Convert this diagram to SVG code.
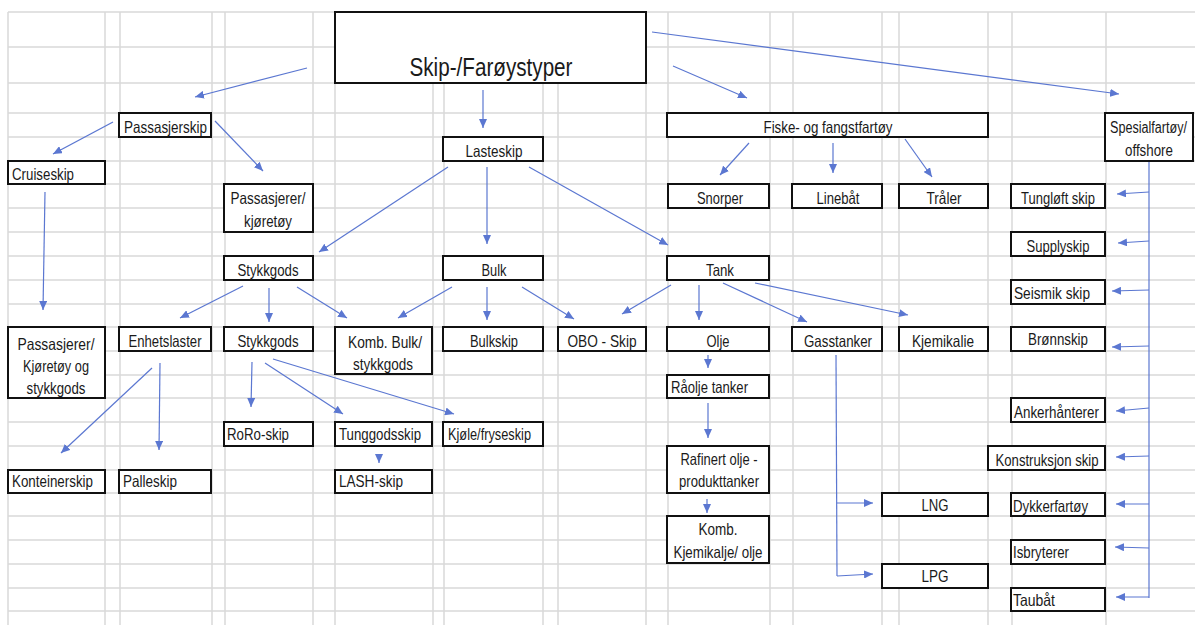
<svg xmlns="http://www.w3.org/2000/svg" width="1195" height="625" viewBox="0 0 1195 625">
<style>
.g line{stroke:#d9d9d9;stroke-width:1.5}
.n rect{fill:#fff;stroke:#111;stroke-width:2}
.n text{font-family:"Liberation Sans",Arial,sans-serif;font-size:16.5px;fill:#1a1a1a}
.m{text-anchor:middle}
#edges line{stroke:#5b77d1;stroke-width:1.2;fill:none}
#edges .a{marker-end:url(#ah)}
</style>
<defs>
<marker id="ah" markerUnits="userSpaceOnUse" markerWidth="10" markerHeight="8" refX="9" refY="4" orient="auto">
<path d="M0,0 L9,4 L0,8 z" fill="#5b77d1"/>
</marker>
</defs>
<rect width="1195" height="625" fill="#fff"/>
<g class="g" id="grid">
<line x1="8" y1="12" x2="1195" y2="12"/><line x1="8" y1="47" x2="1195" y2="47"/><line x1="8" y1="83" x2="1195" y2="83"/>
<line x1="8" y1="113" x2="1195" y2="113"/><line x1="8" y1="137" x2="1195" y2="137"/><line x1="8" y1="161" x2="1195" y2="161"/>
<line x1="8" y1="184" x2="1195" y2="184"/><line x1="8" y1="208" x2="1195" y2="208"/><line x1="8" y1="232" x2="1195" y2="232"/>
<line x1="8" y1="256" x2="1195" y2="256"/><line x1="8" y1="280" x2="1195" y2="280"/><line x1="8" y1="304" x2="1195" y2="304"/>
<line x1="8" y1="327" x2="1195" y2="327"/><line x1="8" y1="351" x2="1195" y2="351"/><line x1="8" y1="375" x2="1195" y2="375"/>
<line x1="8" y1="398" x2="1195" y2="398"/><line x1="8" y1="422" x2="1195" y2="422"/><line x1="8" y1="446" x2="1195" y2="446"/>
<line x1="8" y1="470" x2="1195" y2="470"/><line x1="8" y1="493" x2="1195" y2="493"/><line x1="8" y1="516" x2="1195" y2="516"/>
<line x1="8" y1="540" x2="1195" y2="540"/><line x1="8" y1="564" x2="1195" y2="564"/><line x1="8" y1="588" x2="1195" y2="588"/>
<line x1="8" y1="611" x2="1195" y2="611"/>
<line x1="8" y1="12" x2="8" y2="625"/><line x1="105" y1="12" x2="105" y2="625"/><line x1="120" y1="12" x2="120" y2="625"/>
<line x1="212" y1="12" x2="212" y2="625"/><line x1="225" y1="12" x2="225" y2="625"/><line x1="313" y1="12" x2="313" y2="625"/>
<line x1="335" y1="12" x2="335" y2="625"/><line x1="433" y1="12" x2="433" y2="625"/><line x1="444" y1="12" x2="444" y2="625"/>
<line x1="543" y1="12" x2="543" y2="625"/><line x1="558" y1="12" x2="558" y2="625"/><line x1="646" y1="12" x2="646" y2="625"/>
<line x1="668" y1="12" x2="668" y2="625"/><line x1="770" y1="12" x2="770" y2="625"/><line x1="793" y1="12" x2="793" y2="625"/>
<line x1="882" y1="12" x2="882" y2="625"/><line x1="899" y1="12" x2="899" y2="625"/><line x1="988" y1="12" x2="988" y2="625"/>
<line x1="1012" y1="12" x2="1012" y2="625"/><line x1="1106" y1="12" x2="1106" y2="625"/>
</g>
<g id="edges">
<line class="a" x1="307" y1="68" x2="195" y2="97"/>
<line class="a" x1="483" y1="90" x2="483" y2="128"/>
<line class="a" x1="673" y1="66" x2="747" y2="98"/>
<line class="a" x1="652" y1="32" x2="1119" y2="94"/>
<line class="a" x1="113" y1="122" x2="53" y2="154"/>
<line class="a" x1="215" y1="121" x2="263" y2="171"/>
<line class="a" x1="45" y1="192" x2="43" y2="310"/>
<line class="a" x1="448" y1="167" x2="319" y2="252"/>
<line class="a" x1="487" y1="167" x2="487" y2="244"/>
<line class="a" x1="529" y1="167" x2="668" y2="245"/>
<line class="a" x1="749" y1="143" x2="720" y2="175"/>
<line class="a" x1="833" y1="143" x2="833" y2="173"/>
<line class="a" x1="905" y1="139" x2="932" y2="177"/>
<line x1="1149" y1="152" x2="1149" y2="598"/>
<line class="a" x1="1149" y1="192" x2="1117" y2="194"/>
<line class="a" x1="1149" y1="241" x2="1118" y2="243"/>
<line class="a" x1="1149" y1="290" x2="1112" y2="291"/>
<line class="a" x1="1149" y1="346" x2="1112" y2="347"/>
<line class="a" x1="1149" y1="408" x2="1116" y2="411"/>
<line class="a" x1="1149" y1="456" x2="1116" y2="457"/>
<line class="a" x1="1149" y1="504" x2="1116" y2="504"/>
<line class="a" x1="1149" y1="548" x2="1115" y2="547"/>
<line class="a" x1="1149" y1="597" x2="1116" y2="597"/>
<line class="a" x1="243" y1="286" x2="180" y2="318"/>
<line class="a" x1="269" y1="288" x2="269" y2="322"/>
<line class="a" x1="297" y1="287" x2="347" y2="318"/>
<line class="a" x1="452" y1="287" x2="398" y2="318"/>
<line class="a" x1="487" y1="287" x2="487" y2="320"/>
<line class="a" x1="522" y1="287" x2="574" y2="319"/>
<line class="a" x1="671" y1="285" x2="622" y2="314"/>
<line class="a" x1="699" y1="285" x2="699" y2="320"/>
<line class="a" x1="723" y1="283" x2="807" y2="322"/>
<line class="a" x1="755" y1="283" x2="908" y2="315"/>
<line class="a" x1="708" y1="355" x2="708" y2="368"/>
<line class="a" x1="708" y1="403" x2="708" y2="438"/>
<line class="a" x1="707" y1="499" x2="707" y2="513"/>
<line x1="836" y1="355" x2="837" y2="576"/>
<line class="a" x1="837" y1="503" x2="873" y2="503"/>
<line class="a" x1="837" y1="576" x2="873" y2="574"/>
<line class="a" x1="152" y1="368" x2="61" y2="453"/>
<line class="a" x1="160" y1="363" x2="159" y2="450"/>
<line class="a" x1="252" y1="362" x2="251" y2="407"/>
<line class="a" x1="265" y1="363" x2="343" y2="414"/>
<line class="a" x1="273" y1="359" x2="454" y2="414"/>
<line class="a" x1="379" y1="455" x2="379" y2="463"/>
</g>
<g id="n-title" class="n"><rect x="335" y="12" width="311" height="71"/><text class="m" x="491" y="76" style="font-size:25px" textLength="163" lengthAdjust="spacingAndGlyphs">Skip-/Farøystyper</text></g>
<g id="n-passasjerskip" class="n"><rect x="119" y="113" width="92" height="24"/><text x="124" y="133" textLength="83" lengthAdjust="spacingAndGlyphs">Passasjerskip</text></g>
<g id="n-lasteskip" class="n"><rect x="443" y="137" width="100" height="24"/><text class="m" x="494" y="157" textLength="57" lengthAdjust="spacingAndGlyphs">Lasteskip</text></g>
<g id="n-fiske" class="n"><rect x="667" y="113" width="321" height="24"/><text class="m" x="828" y="133" textLength="129" lengthAdjust="spacingAndGlyphs">Fiske- og fangstfartøy</text></g>
<g id="n-spesial" class="n"><rect x="1105" y="113" width="88" height="48"/><text x="1187" y="133" style="font-size:16px;text-anchor:end" textLength="77" lengthAdjust="spacingAndGlyphs">Spesialfartøy/</text><text class="m" x="1149" y="156" textLength="48" lengthAdjust="spacingAndGlyphs">offshore</text></g>
<g id="n-cruiseskip" class="n"><rect x="8" y="161" width="97" height="23"/><text x="12" y="180" textLength="62" lengthAdjust="spacingAndGlyphs">Cruiseskip</text></g>
<g id="n-passkjoretoy" class="n"><rect x="224" y="184" width="89" height="48"/><text class="m" x="268" y="204" textLength="75" lengthAdjust="spacingAndGlyphs">Passasjerer/</text><text class="m" x="268" y="227" textLength="48" lengthAdjust="spacingAndGlyphs">kjøretøy</text></g>
<g id="n-snorper" class="n"><rect x="668" y="184" width="101" height="24"/><text class="m" x="720" y="204" textLength="46" lengthAdjust="spacingAndGlyphs">Snorper</text></g>
<g id="n-linebat" class="n"><rect x="792" y="184" width="90" height="24"/><text class="m" x="838" y="204" textLength="43" lengthAdjust="spacingAndGlyphs">Linebåt</text></g>
<g id="n-traler" class="n"><rect x="899" y="184" width="89" height="24"/><text class="m" x="944" y="204" textLength="35" lengthAdjust="spacingAndGlyphs">Tråler</text></g>
<g id="n-tungloft" class="n"><rect x="1011" y="184" width="94" height="24"/><text class="m" x="1058" y="204" textLength="74" lengthAdjust="spacingAndGlyphs">Tungløft skip</text></g>
<g id="n-supplyskip" class="n"><rect x="1011" y="232" width="94" height="24"/><text class="m" x="1058" y="252" textLength="63" lengthAdjust="spacingAndGlyphs">Supplyskip</text></g>
<g id="n-stykkgods1" class="n"><rect x="224" y="256" width="89" height="24"/><text class="m" x="268" y="276" textLength="61" lengthAdjust="spacingAndGlyphs">Stykkgods</text></g>
<g id="n-bulk" class="n"><rect x="443" y="256" width="100" height="24"/><text class="m" x="494" y="276" textLength="25" lengthAdjust="spacingAndGlyphs">Bulk</text></g>
<g id="n-tank" class="n"><rect x="667" y="256" width="102" height="24"/><text class="m" x="720" y="276" textLength="28" lengthAdjust="spacingAndGlyphs">Tank</text></g>
<g id="n-seismik" class="n"><rect x="1011" y="280" width="94" height="24"/><text x="1014" y="299" textLength="76" lengthAdjust="spacingAndGlyphs">Seismik skip</text></g>
<g id="n-passkjstykk" class="n"><rect x="8" y="327" width="97" height="71"/><text class="m" x="56" y="350" textLength="77" lengthAdjust="spacingAndGlyphs">Passasjerer/</text><text class="m" x="56" y="372" textLength="66" lengthAdjust="spacingAndGlyphs">Kjøretøy og</text><text class="m" x="56" y="394" textLength="59" lengthAdjust="spacingAndGlyphs">stykkgods</text></g>
<g id="n-enhetslaster" class="n"><rect x="119" y="327" width="92" height="24"/><text class="m" x="165" y="347" textLength="73" lengthAdjust="spacingAndGlyphs">Enhetslaster</text></g>
<g id="n-stykkgods2" class="n"><rect x="224" y="327" width="89" height="24"/><text class="m" x="268" y="347" textLength="61" lengthAdjust="spacingAndGlyphs">Stykkgods</text></g>
<g id="n-kombbulk" class="n"><rect x="335" y="327" width="97" height="47"/><text class="m" x="385" y="348" textLength="74" lengthAdjust="spacingAndGlyphs">Komb. Bulk/</text><text class="m" x="383" y="370" textLength="60" lengthAdjust="spacingAndGlyphs">stykkgods</text></g>
<g id="n-bulkskip" class="n"><rect x="443" y="327" width="100" height="24"/><text class="m" x="494" y="347" textLength="48" lengthAdjust="spacingAndGlyphs">Bulkskip</text></g>
<g id="n-obo" class="n"><rect x="558" y="327" width="88" height="24"/><text class="m" x="602" y="347" textLength="69" lengthAdjust="spacingAndGlyphs">OBO - Skip</text></g>
<g id="n-olje" class="n"><rect x="667" y="327" width="102" height="24"/><text class="m" x="718" y="347" textLength="23" lengthAdjust="spacingAndGlyphs">Olje</text></g>
<g id="n-gasstanker" class="n"><rect x="792" y="327" width="90" height="24"/><text class="m" x="838" y="347" textLength="68" lengthAdjust="spacingAndGlyphs">Gasstanker</text></g>
<g id="n-kjemikalie" class="n"><rect x="899" y="327" width="89" height="24"/><text class="m" x="943" y="347" textLength="62" lengthAdjust="spacingAndGlyphs">Kjemikalie</text></g>
<g id="n-bronnskip" class="n"><rect x="1011" y="327" width="94" height="24"/><text class="m" x="1058" y="345" textLength="60" lengthAdjust="spacingAndGlyphs">Brønnskip</text></g>
<g id="n-raolje" class="n"><rect x="667" y="375" width="102" height="23"/><text x="671" y="393" textLength="77" lengthAdjust="spacingAndGlyphs">Råolje tanker</text></g>
<g id="n-anker" class="n"><rect x="1011" y="398" width="94" height="24"/><text x="1014" y="418" textLength="85" lengthAdjust="spacingAndGlyphs">Ankerhånterer</text></g>
<g id="n-roro" class="n"><rect x="224" y="422" width="89" height="24"/><text x="227" y="440" textLength="62" lengthAdjust="spacingAndGlyphs">RoRo-skip</text></g>
<g id="n-tunggods" class="n"><rect x="335" y="422" width="97" height="24"/><text x="339" y="440" textLength="82" lengthAdjust="spacingAndGlyphs">Tunggodsskip</text></g>
<g id="n-kjole" class="n"><rect x="443" y="422" width="100" height="24"/><text x="448" y="440" textLength="83" lengthAdjust="spacingAndGlyphs">Kjøle/fryseskip</text></g>
<g id="n-rafinert" class="n"><rect x="667" y="446" width="102" height="47"/><text class="m" x="719" y="465" textLength="77" lengthAdjust="spacingAndGlyphs">Rafinert olje -</text><text class="m" x="719" y="487" textLength="80" lengthAdjust="spacingAndGlyphs">produkttanker</text></g>
<g id="n-konstruksjon" class="n"><rect x="988" y="446" width="117" height="24"/><text class="m" x="1047" y="466" textLength="103" lengthAdjust="spacingAndGlyphs">Konstruksjon skip</text></g>
<g id="n-konteiner" class="n"><rect x="8" y="470" width="97" height="23"/><text x="12" y="487" textLength="81" lengthAdjust="spacingAndGlyphs">Konteinerskip</text></g>
<g id="n-palleskip" class="n"><rect x="119" y="470" width="92" height="23"/><text x="123" y="487" textLength="54" lengthAdjust="spacingAndGlyphs">Palleskip</text></g>
<g id="n-lash" class="n"><rect x="335" y="470" width="97" height="23"/><text x="339" y="487" textLength="64" lengthAdjust="spacingAndGlyphs">LASH-skip</text></g>
<g id="n-lng" class="n"><rect x="882" y="493" width="106" height="23"/><text class="m" x="935" y="511" textLength="27" lengthAdjust="spacingAndGlyphs">LNG</text></g>
<g id="n-dykker" class="n"><rect x="1011" y="493" width="94" height="23"/><text x="1013" y="512" textLength="75" lengthAdjust="spacingAndGlyphs">Dykkerfartøy</text></g>
<g id="n-kombkjem" class="n"><rect x="667" y="516" width="102" height="47"/><text class="m" x="718" y="535" textLength="39" lengthAdjust="spacingAndGlyphs">Komb.</text><text class="m" x="718" y="558" textLength="89" lengthAdjust="spacingAndGlyphs">Kjemikalje/ olje</text></g>
<g id="n-isbryterer" class="n"><rect x="1011" y="540" width="94" height="24"/><text x="1013" y="558" textLength="56" lengthAdjust="spacingAndGlyphs">Isbryterer</text></g>
<g id="n-lpg" class="n"><rect x="882" y="564" width="106" height="24"/><text class="m" x="935" y="582" textLength="27" lengthAdjust="spacingAndGlyphs">LPG</text></g>
<g id="n-taubat" class="n"><rect x="1011" y="588" width="94" height="23"/><text x="1013" y="606" textLength="42" lengthAdjust="spacingAndGlyphs">Taubåt</text></g>
</svg>
